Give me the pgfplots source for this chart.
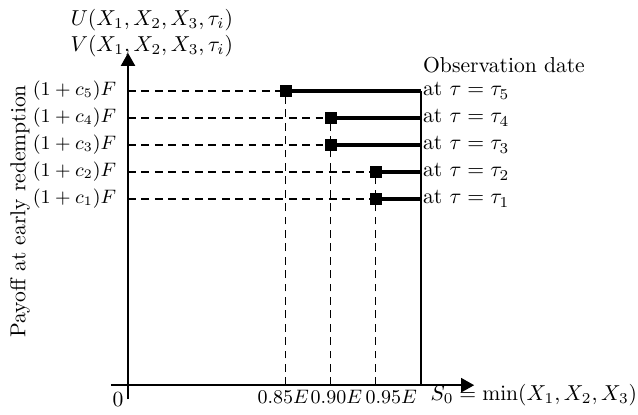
\documentclass[border=0pt]{standalone}
\usepackage{pgfplots}
\pgfplotsset{compat=1.18}
\usetikzlibrary{arrows.meta}
\begin{document}
\begin{tikzpicture}
\begin{axis}[
  x=20.83pt, y=12.5pt,
  axis lines=middle,
  axis line style={line width=0.9pt, -{Triangle[length=6pt,width=6.5pt]}},
  xmin=-0.38, xmax=7.69, ymin=-0.52, ymax=12.3,
  xtick={3.45,4.63,5.85},
  xticklabels={$0.85E$,$0.90E$,$0.95E$},
  ytick={6.9,7.9,8.9,9.9,10.9},
  yticklabels={$(1+c_1)F$,$(1+c_2)F$,$(1+c_3)F$,$(1+c_4)F$,$(1+c_5)F$},
  major tick length=0pt,
  xticklabel style={anchor=base, yshift=-8.4pt, inner sep=0pt, font=\small},
  yticklabel style={anchor=east, inner sep=0pt, xshift=-5.3pt, font=\small},
  clip=false,
]
% bounding box in reference proportions
\path (axis cs:-2.844,-1.074) rectangle (axis cs:11.33,14.26);
% dashed horizontals
\addplot[black, line width=0.85pt, dash pattern=on 3.6pt off 2.6pt] coordinates {(0,10.9) (3.5,10.9)};
\addplot[black, line width=0.85pt, dash pattern=on 3.6pt off 2.6pt] coordinates {(0,9.9) (4.5,9.9)};
\addplot[black, line width=0.85pt, dash pattern=on 3.6pt off 2.6pt] coordinates {(0,8.9) (4.5,8.9)};
\addplot[black, line width=0.85pt, dash pattern=on 3.6pt off 2.6pt] coordinates {(0,7.9) (5.5,7.9)};
\addplot[black, line width=0.85pt, dash pattern=on 3.6pt off 2.6pt] coordinates {(0,6.9) (5.5,6.9)};
% dashed verticals
\addplot[black, line width=0.85pt, dash pattern=on 3.6pt off 2.6pt] coordinates {(3.5,0) (3.5,10.9)};
\addplot[black, line width=0.85pt, dash pattern=on 3.6pt off 2.6pt] coordinates {(4.5,0) (4.5,9.9)};
\addplot[black, line width=0.85pt, dash pattern=on 3.6pt off 2.6pt] coordinates {(5.5,0) (5.5,7.9)};
% thick payoff segments
\addplot[black, line width=1.9pt, solid] coordinates {(3.5,10.9) (6.5,10.9)};
\addplot[black, line width=1.9pt, solid] coordinates {(4.5,9.9) (6.5,9.9)};
\addplot[black, line width=1.9pt, solid] coordinates {(4.5,8.9) (6.5,8.9)};
\addplot[black, line width=1.9pt, solid] coordinates {(5.5,7.9) (6.5,7.9)};
\addplot[black, line width=1.9pt, solid] coordinates {(5.5,6.9) (6.5,6.9)};
% vertical solid line
\addplot[black, line width=0.9pt, solid] coordinates {(6.5,0) (6.5,10.9)};
% markers
\addplot[only marks, mark=square*, mark size=2.6pt, black, solid] coordinates {(3.5,10.9) (4.5,9.9) (4.5,8.9) (5.5,7.9) (5.5,6.9)};
% labels
\node[anchor=west, inner sep=1pt] at (axis cs:6.5,10.9) {at $\tau=\tau_5$};
\node[anchor=west, inner sep=1pt] at (axis cs:6.5,9.9) {at $\tau=\tau_4$};
\node[anchor=west, inner sep=1pt] at (axis cs:6.5,8.9) {at $\tau=\tau_3$};
\node[anchor=west, inner sep=1pt] at (axis cs:6.5,7.9) {at $\tau=\tau_2$};
\node[anchor=west, inner sep=1pt] at (axis cs:6.5,6.9) {at $\tau=\tau_1$};
\node[anchor=west, inner sep=1pt] at (axis cs:6.5,11.85) {Observation date};
\node[align=center, inner sep=0pt] at (axis cs:0.53,13.04) {$U(X_1,X_2,X_3,\tau_i)$\\$V(X_1,X_2,X_3,\tau_i)$};
\node[anchor=base east, inner sep=0pt] at (axis cs:11.32,-0.55) {$S_0=\min(X_1,X_2,X_3)$};
\node[inner sep=0pt] at (axis cs:-0.22,-0.52) {$0$};
\node[rotate=90, inner sep=0pt] at (axis cs:-2.4,6.44) {Payoff at early redemption};
\end{axis}
\end{tikzpicture}
\end{document}
